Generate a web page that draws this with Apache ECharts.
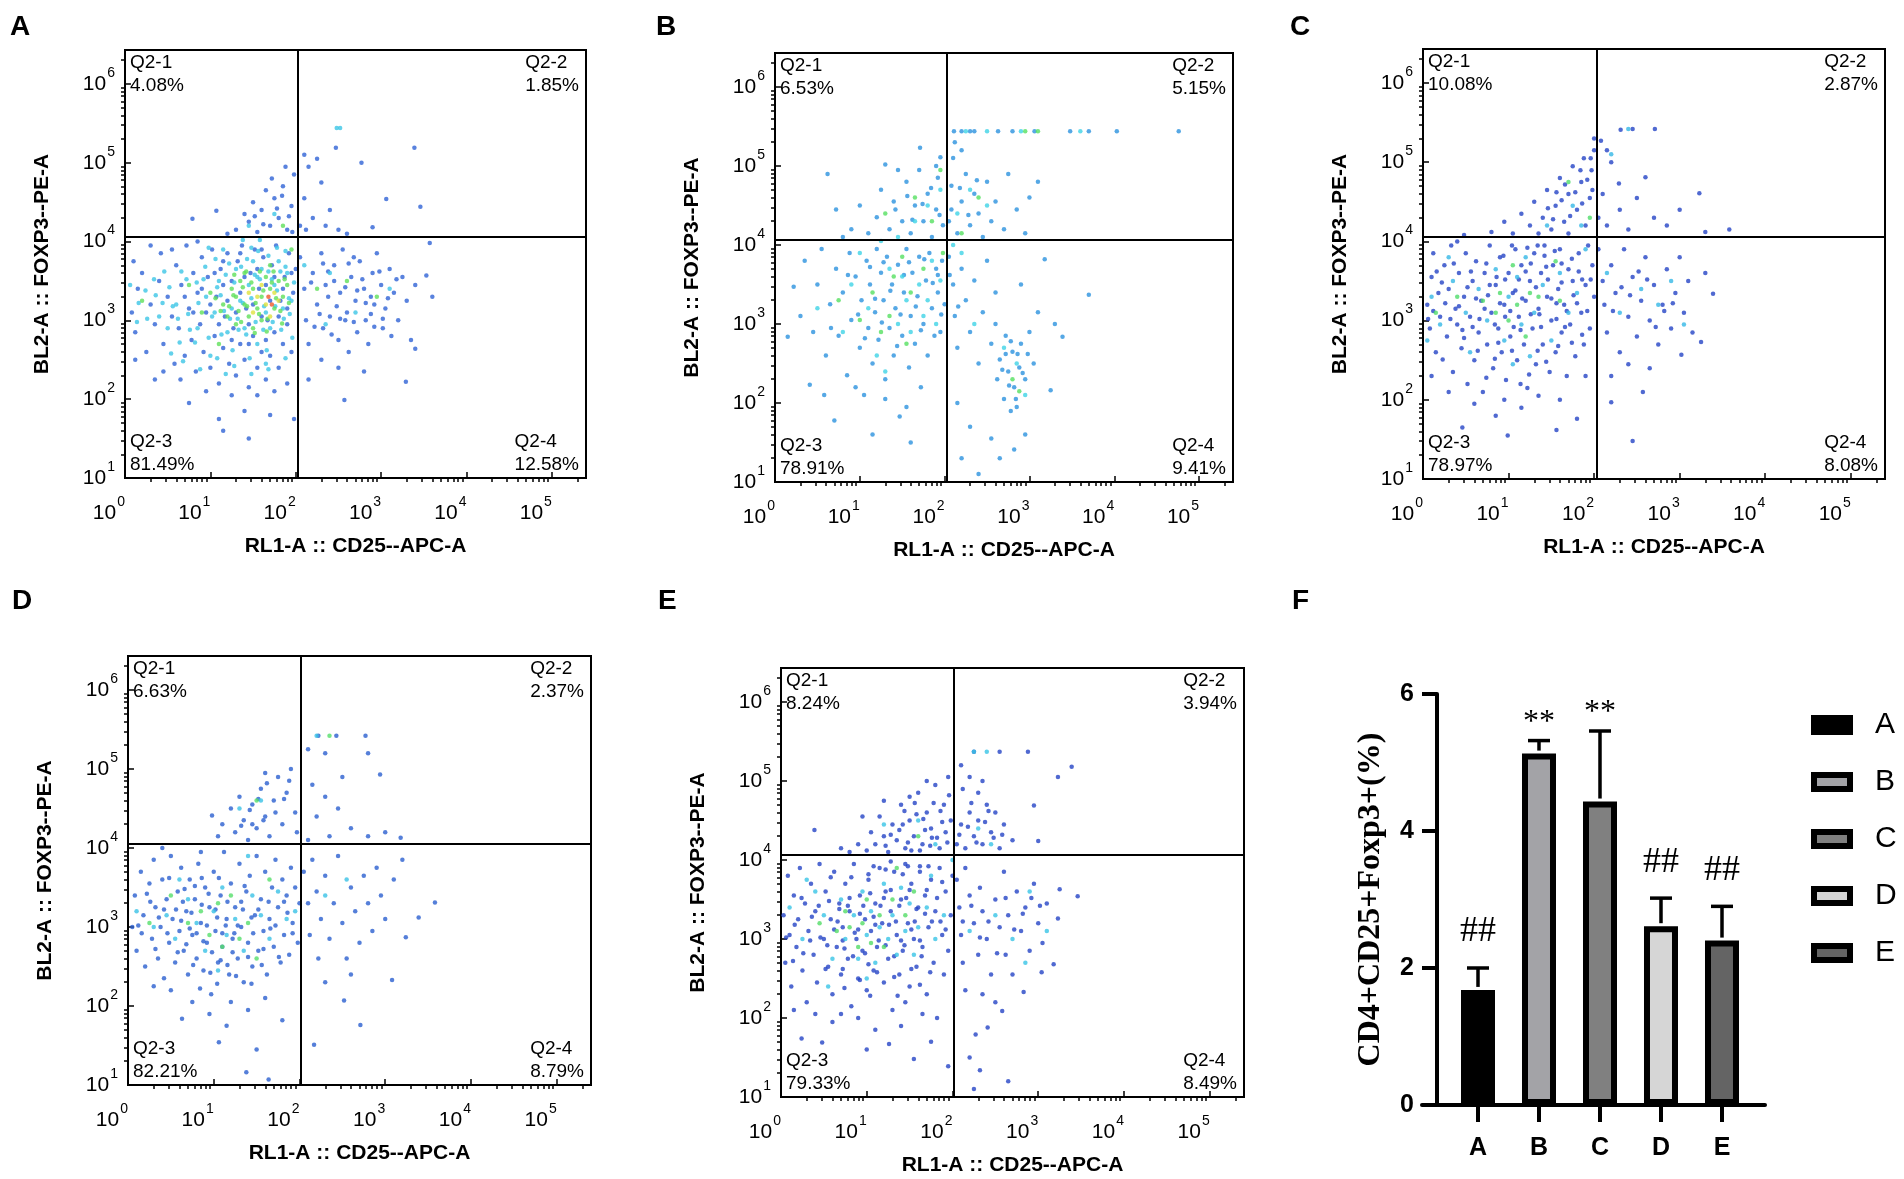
<!DOCTYPE html>
<html>
<head>
<meta charset="utf-8">
<script src="https://cdn.jsdelivr.net/npm/echarts@6/dist/echarts.min.js"></script>
<style>
html, body { margin: 0; padding: 0; background: #fff; }
#chart { width: 1904px; height: 1179px; }
</style>
</head>
<body>
<div id="chart"></div>
<script>
// ---- flow panels: quadrant stats ----
var panelNames = ['A', 'B', 'C', 'D', 'E'];
var q1Pct = ['4.08%', '6.53%', '10.08%', '6.63%', '8.24%'];
var q2Pct = ['1.85%', '5.15%', '2.87%', '2.37%', '3.94%'];
var q3Pct = ['81.49%', '78.91%', '78.97%', '82.21%', '79.33%'];
var q4Pct = ['12.58%', '9.41%', '8.08%', '8.79%', '8.49%'];
// gate positions, log10 units
var gateX = [2.02, 2.02, 2.03, 2.02, 2.02];
var gateY = [4.06, 4.06, 4.06, 4.05, 4.06];
var xTickExp = [0, 1, 2, 3, 4, 5];
var yTickExp = [1, 2, 3, 4, 5, 6];

// ---- events, [log10 CD25, log10 FOXP3] ----
var aBlue = [[0.08,3.1],[0.12,2.85],[0.15,3.4],[0.2,3.6],[0.1,3.75],[0.25,2.6],[0.3,3.2],[0.35,2.95],[0.4,3.5],[0.42,3.85],[0.45,2.7],[0.5,3.3],[0.55,3.05],[0.58,2.45],[0.6,3.7],[0.63,2.9],[0.66,3.45],[0.7,2.55],[0.72,3.95],[0.75,3.15],[0.78,2.75],[0.8,3.6],[0.83,2.35],[0.85,3.35],[0.88,2.95],[0.9,3.8],[0.92,2.6],[0.95,3.1],[0.97,3.55],[1.0,2.4],[1.02,3.9],[1.05,2.8],[1.07,3.3],[1.1,2.2],[1.12,3.65],[1.15,2.65],[1.17,3.05],[1.2,3.85],[1.22,2.45],[1.25,3.5],[1.27,2.9],[1.3,2.3],[1.32,3.75],[1.35,2.7],[1.37,3.95],[1.4,2.5],[1.42,3.15],[1.45,2.15],[1.47,3.6],[1.5,2.8],[1.52,3.9],[1.55,2.4],[1.57,3.4],[1.6,2.6],[1.62,3.8],[1.65,2.25],[1.67,3.0],[1.7,2.55],[1.72,3.7],[1.75,2.85],[1.77,3.95],[1.8,2.4],[1.82,3.25],[1.85,2.7],[1.87,3.55],[1.9,2.95],[1.92,3.85],[1.95,2.6],[1.97,3.35],[2.0,3.65],[1.55,2.05],[1.25,2.05],[0.95,2.1],[1.75,2.1],[1.4,1.85],[1.1,1.75],[1.7,1.8],[1.98,1.75],[1.45,1.5],[1.15,1.6],[0.65,2.25],[0.45,2.35],[0.12,2.5],[0.3,3.95],[0.55,3.9],[0.85,4.0],[0.35,2.25],[1.9,2.2],[0.75,1.95],
  [1.3,3.1],[1.35,3.35],[1.4,3.55],[1.45,2.95],[1.5,3.2],[1.55,3.65],[1.6,3.05],[1.65,3.45],[1.7,3.25],[1.75,3.55],[1.8,3.05],[1.85,3.4],[1.2,3.25],[1.15,3.45],[1.1,2.95],[1.05,3.6],[1.0,3.2],[0.9,3.4],[0.8,3.1],[0.7,3.3],[1.25,2.75],[1.45,2.7],[1.65,2.75],[1.9,3.15],[1.95,3.6],[1.6,3.9],[1.35,3.85],[1.15,3.75],
  [1.3,4.15],[1.45,4.25],[1.55,4.12],[1.6,4.4],[1.7,4.2],[1.75,4.55],[1.8,4.3],[1.85,4.7],[1.9,4.15],[1.95,4.45],[1.98,4.85],[1.65,4.65],[1.5,4.5],[1.4,4.35],[1.2,4.1],[1.07,4.39],[0.79,4.29],[1.88,4.95],[1.72,4.8],[1.62,4.22],[1.78,4.42],[1.92,4.32],[1.52,4.32],[1.84,4.58],[1.96,4.12],
  [2.05,4.2],[2.1,4.55],[2.15,4.95],[2.2,4.3],[2.3,4.75],[2.12,4.15],[2.25,5.05],[2.4,4.4],[2.5,4.15],[2.6,4.1],[2.77,5.0],[3.06,4.54],[3.46,4.44],[2.47,5.19],[3.39,5.19],[2.1,5.1],[2.35,4.2],[2.9,4.18],
  [2.05,3.8],[2.1,3.4],[2.12,3.0],[2.15,2.7],[2.2,3.6],[2.25,3.2],[2.3,3.85],[2.32,2.9],[2.35,3.45],[2.4,3.05],[2.45,3.7],[2.5,2.75],[2.52,3.35],[2.55,3.9],[2.6,3.1],[2.62,2.6],[2.65,3.55],[2.7,3.25],[2.72,2.85],[2.75,3.75],[2.8,3.4],[2.82,3.0],[2.85,2.7],[2.9,3.6],[2.92,3.2],[2.95,3.85],[3.0,3.45],[3.02,2.9],[3.05,3.15],[3.1,3.65],[3.12,2.8],[3.15,3.35],[3.2,3.0],[3.25,3.55],[3.3,3.25],[3.35,2.75],[3.4,3.45],[3.57,3.98],[3.53,3.57],[3.6,3.3],[3.4,2.64],[3.29,2.22],[2.57,1.99],[2.5,2.4],[2.3,2.5],[2.8,2.35],[2.15,2.25],[2.45,3.5],[2.68,3.8],[2.38,3.3],[2.58,3.0],[2.88,3.3],
  [2.18,3.48],[2.28,3.08],[2.38,3.62],[2.48,3.18],[2.58,3.42],[2.68,2.98],[2.78,3.52],[2.88,3.08],[2.98,3.62],[3.08,3.28],[2.22,2.92],[2.42,2.82],[2.62,3.72],[2.82,3.22],[3.02,3.02],[2.32,3.72],[2.52,3.02],[2.72,3.38],[2.92,2.92],[3.18,3.52]];
var aCyan = [[1.35,3.25],[1.45,3.45],[1.55,3.55],[1.65,3.1],[1.75,3.45],[1.25,3.15],[1.4,2.9],[1.6,3.65],[1.85,3.15],[1.95,3.25],[1.1,3.5],[1.05,3.1],[0.95,3.3],[0.85,2.9],[1.5,3.75],[1.3,3.65],[1.2,2.85],[1.7,2.9],[1.8,3.75],[1.9,3.6],[0.6,3.2],[0.4,3.05],[1.55,2.7],[1.15,3.9],[1.45,4.2],[1.75,4.35],[2.1,3.7],[2.4,3.6],[2.7,3.1],[3.1,3.4],[2.35,2.95],[0.5,2.9],[1.0,2.55],[1.65,2.45],[2.48,5.44],[2.52,5.44],
  [1.02,3.05],[1.08,3.42],[1.13,2.82],[1.18,3.58],[1.23,3.02],[1.28,3.48],[1.33,2.88],[1.38,3.22],[1.43,3.78],[1.48,3.28],[1.53,2.98],[1.58,3.52],[1.63,3.18],[1.68,3.62],[1.73,2.98],[1.78,3.38],[1.83,2.88],[1.88,3.68],[1.93,3.08],[1.98,3.48],[0.98,2.78],[1.06,3.78],[1.16,3.12],[1.26,2.62],[1.36,3.68],[1.46,2.52],[1.56,3.88],[1.66,2.62],[1.76,3.18],[1.86,3.02],[1.96,2.78],[0.86,3.22],[0.76,2.88],[0.66,3.62],[0.56,3.18],[0.46,3.62],[0.36,3.32],[0.26,3.02],[0.16,3.22],[0.06,3.45],[0.94,3.68],[0.84,3.48],[0.74,3.08],[0.64,2.72],[0.54,2.58],[1.62,2.88],[1.52,3.58],[1.42,2.82],[1.32,3.02],[1.22,3.72],[1.12,3.32],[1.72,3.52],[1.82,3.62],[1.92,3.28],[1.68,3.82],[1.58,4.02],[1.78,3.92],[1.88,3.88],[1.48,3.92],[1.38,4.02],
  [0.52,3.42],[0.62,3.02],[0.72,3.52],[0.82,2.72],[0.92,3.52],[0.44,3.22],[0.34,3.52],[0.24,3.38],[0.14,2.98],[0.98,3.92],[1.08,2.52],[1.28,2.42],[1.48,2.32],[1.68,2.38],[1.88,2.52],[0.68,2.48],[0.88,2.38],[1.18,2.32]];
var aGreen = [[1.3,3.3],[1.4,3.2],[1.5,3.4],[1.6,3.3],[1.7,3.4],[1.55,3.15],[1.65,3.55],[1.45,3.05],[1.35,3.5],[1.75,3.15],[1.85,3.3],[1.2,3.05],[1.25,3.4],[1.8,3.5],[1.9,3.45],[1.6,3.0],[1.5,2.9],[1.4,3.6],[1.15,3.2],[1.0,3.35],[0.9,3.1],[1.7,3.7],[1.95,3.9],[1.3,2.95],[0.75,3.45],[0.2,3.25],[1.1,2.7],[1.85,4.2],[2.25,3.4],[2.6,3.5],[2.95,3.3],
  [1.22,3.18],[1.27,3.32],[1.33,3.12],[1.38,3.42],[1.43,3.18],[1.48,3.48],[1.53,3.22],[1.57,3.08],[1.62,3.38],[1.67,3.02],[1.72,3.48],[1.77,3.28],[1.82,3.12],[1.87,3.52],[1.92,3.22],[1.42,3.62],[1.58,3.62],[1.74,3.62],[1.28,3.58],[1.36,2.98],[1.52,2.84],[1.66,2.86],[1.84,2.96],[1.12,3.12],[1.06,3.28]];
var aYellow = [[1.55,3.3],[1.65,3.2],[1.75,3.35],[1.6,3.45],[1.5,3.1],[1.45,3.35],[1.7,3.05],[1.8,3.25]];
var aRed = [[1.72,3.2],[1.68,3.3]];

var bBlue = [[0.15,2.84],[0.22,3.47],[0.3,3.1],[0.35,3.8],[0.41,2.23],[0.45,2.9],[0.5,3.5],[0.55,3.95],[0.6,2.6],[0.65,3.25],[0.7,1.78],[0.72,3.7],[0.75,2.85],[0.8,3.4],[0.85,2.35],[0.88,3.9],[0.9,3.05],[0.95,3.6],[1.0,2.7],[1.02,3.3],[1.05,2.1],[1.08,3.8],[1.1,2.95],[1.12,3.5],[1.15,2.5],[1.18,3.15],[1.2,3.95],[1.22,2.8],[1.25,3.65],[1.28,3.3],[1.3,2.3],[1.32,3.85],[1.35,2.95],[1.38,3.5],[1.4,2.6],[1.42,3.2],[1.45,3.75],[1.47,1.83],[1.5,2.85],[1.52,3.4],[1.55,3.95],[1.58,2.45],[1.6,3.1],[1.62,3.65],[1.65,2.75],[1.68,3.35],[1.7,3.85],[1.72,2.2],[1.75,3.0],[1.78,3.55],[1.8,2.6],[1.82,3.9],[1.85,3.2],[1.88,2.85],[1.9,3.7],[1.92,3.4],[1.95,2.9],[1.97,3.8],[2.0,3.25],[1.3,2.05],[1.55,1.95],[0.95,2.2],[1.15,1.6],[1.6,1.5],[0.58,2.1],
  [0.98,3.12],[1.12,3.72],[1.26,3.02],[1.36,3.42],[1.48,3.12],[1.58,3.78],[1.66,3.22],[1.76,3.82],[1.86,3.52],[1.96,3.12],[1.06,2.82],[1.18,3.32],[1.44,2.72],[1.72,2.92],[1.92,3.62],[1.52,3.62],[1.28,3.78],[0.86,3.62],[0.66,2.95],
  [0.62,4.9],[0.72,4.45],[1.3,5.02],[1.71,5.23],[1.95,5.11],[0.9,4.2],[1.0,4.5],[1.1,4.15],[1.2,4.35],[1.25,4.7],[1.35,4.2],[1.4,4.55],[1.5,4.3],[1.55,4.8],[1.6,4.15],[1.65,4.5],[1.7,4.95],[1.75,4.3],[1.8,4.65],[1.85,4.1],[1.9,4.45],[1.92,4.85],[1.98,4.25],[0.8,4.1],[1.45,4.95],[1.62,4.32],[1.74,4.52],[1.84,4.72],[1.56,4.62],[1.94,4.38],[1.42,4.45],[1.9,5.0],
  [2.05,4.3],[2.08,4.75],[2.1,5.1],[2.15,4.15],[2.2,4.55],[2.25,4.9],[2.3,4.25],[2.35,4.65],[2.4,4.4],[2.45,4.1],[2.5,4.8],[2.55,4.3],[2.6,4.55],[2.7,4.2],[2.75,4.9],[2.85,4.45],[2.95,4.15],[3.1,4.8],[3.0,4.6],[2.12,5.3],[2.2,5.2],[2.08,4.45],[2.18,4.72],[2.28,4.38],[2.38,4.82],
  [2.11,5.44],[2.2,5.44],[2.3,5.44],[2.35,5.44],[2.63,5.44],[2.8,5.44],[3.06,5.44],[3.48,5.44],[3.7,5.44],[4.03,5.44],[4.76,5.44],
  [2.05,3.85],[2.1,3.5],[2.12,3.1],[2.15,2.7],[2.2,3.7],[2.25,3.3],[2.3,2.9],[2.35,3.55],[2.4,2.5],[2.45,3.15],[2.5,3.8],[2.55,2.75],[2.6,3.4],[2.62,2.3],[2.65,2.55],[2.7,2.05],[2.72,2.85],[2.75,2.4],[2.78,1.9],[2.8,2.65],[2.82,2.2],[2.85,1.95],[2.88,2.45],[2.9,2.75],[2.95,2.3],[3.0,2.9],[3.05,2.5],[3.1,3.15],[3.18,3.82],[3.25,2.16],[3.39,2.84],[3.7,3.37],[2.82,1.41],[2.4,1.1],[2.55,1.55],[2.3,1.7],[2.2,1.3],[2.65,1.3],[2.95,1.6],[2.15,2.0],[2.6,3.0],[2.9,3.5],[3.3,3.0],
  [2.06,3.62],[2.16,3.22],[2.72,2.62],[2.76,2.22],[2.86,2.62],[2.92,2.38],[2.68,2.42],[2.98,2.62],[2.84,2.05],[2.78,2.78]];
var bCyan = [[0.5,3.2],[0.9,3.5],[1.1,3.2],[1.2,2.6],[1.35,3.7],[1.45,3.0],[1.5,3.6],[1.6,2.9],[1.7,3.5],[1.8,3.3],[1.9,3.0],[1.95,3.55],[1.25,4.05],[1.45,4.1],[1.65,4.3],[1.8,4.5],[1.95,4.7],[2.15,4.4],[2.3,4.7],[2.5,4.5],[2.7,2.7],[2.85,2.5],[2.95,2.1],[2.2,3.9],[2.35,3.0],[1.0,3.9],[0.8,2.9],[1.3,2.4],[1.55,3.3],[1.75,3.1],[2.25,5.44],[2.5,5.44],[2.9,5.44],[3.6,5.44],[2.1,4.0],[1.85,3.8]];
var bGreen = [[0.75,3.3],[1.15,3.4],[1.35,3.1],[1.5,3.85],[1.6,3.4],[1.75,3.7],[1.85,4.3],[1.95,4.95],[1.65,4.6],[1.3,4.4],[1.98,3.9],[2.2,4.15],[2.4,4.6],[2.8,2.3],[2.88,2.15],[1.25,2.9],[1.55,2.75],[1.0,3.05],[2.95,5.44],[3.1,5.44],[1.4,3.6]];

var cBlue = [[0.05,3.2],[0.08,2.9],[0.1,3.55],[0.12,3.85],[0.15,2.6],[0.18,3.35],[0.2,3.05],[0.23,2.51],[0.25,3.7],[0.28,2.8],[0.3,3.4],[0.33,3.95],[0.35,2.35],[0.38,3.15],[0.4,2.95],[0.42,3.6],[0.45,2.65],[0.46,1.65],[0.48,3.3],[0.5,3.85],[0.52,2.2],[0.55,3.05],[0.58,3.5],[0.6,2.5],[0.62,3.75],[0.65,2.85],[0.68,3.25],[0.7,2.1],[0.72,3.6],[0.75,2.7],[0.78,3.95],[0.8,3.1],[0.82,2.4],[0.85,3.45],[0.88,2.9],[0.9,3.8],[0.92,2.6],[0.95,3.2],[0.97,2.25],[0.99,1.55],[1.0,3.6],[1.02,2.8],[1.05,3.35],[1.08,3.9],[1.1,2.5],[1.12,3.05],[1.15,3.7],[1.18,2.7],[1.2,3.25],[1.22,2.15],[1.25,3.5],[1.28,2.9],[1.3,3.85],[1.32,2.45],[1.35,3.15],[1.38,3.6],[1.4,2.7],[1.42,3.95],[1.45,3.3],[1.48,2.35],[1.5,3.0],[1.52,3.7],[1.55,2.6],[1.56,1.62],[1.58,3.4],[1.6,3.9],[1.62,2.85],[1.65,3.2],[1.68,2.3],[1.7,3.65],[1.72,2.95],[1.75,3.5],[1.78,2.55],[1.8,1.76],[1.82,3.85],[1.85,3.1],[1.88,2.7],[1.9,3.45],[1.93,3.95],[1.95,2.9],[1.98,3.7],[2.0,3.3],[0.3,2.1],[0.6,1.95],[0.85,1.8],[1.15,1.9],[1.35,2.05],[1.6,2.0],[1.9,2.3],[0.1,2.3],[0.95,2.0],[0.4,4.0],
  [0.72,3.15],[0.78,3.45],[0.84,2.95],[0.9,3.22],[0.96,3.52],[1.02,3.12],[1.08,3.38],[1.14,2.88],[1.2,3.62],[1.26,3.08],[1.32,3.42],[1.38,2.92],[1.44,3.68],[1.5,3.28],[1.56,3.02],[1.62,3.48],[1.68,3.12],[1.74,3.78],[1.8,3.22],[1.86,3.52],[0.62,3.28],[0.52,3.42],[0.42,3.18],[0.32,3.02],[0.22,3.48],[0.12,3.12],[0.58,2.92],[0.48,2.78],[0.88,2.72],[1.04,2.62],[1.22,3.92],[1.42,3.82],[1.62,3.72],[1.82,3.62],[1.92,3.12],[1.58,2.68],[1.34,2.62],[0.74,3.72],[0.94,3.82],[1.12,3.52],
  [0.66,3.02],[0.76,3.32],[0.86,3.55],[0.96,3.05],[1.06,2.92],[1.16,3.28],[1.26,3.72],[1.36,3.08],[1.46,3.52],[1.56,3.22],[1.66,2.92],[1.76,3.32],[1.86,2.82],[1.96,3.52],[0.56,3.62],[0.46,2.88],[0.36,3.72],[0.26,3.22],[0.16,3.62],[0.06,3.02],[0.64,2.62],[0.84,2.52],[1.24,2.32],[1.44,2.48],[1.74,2.72],[1.14,2.2],[0.74,2.28],[1.54,3.88],[1.34,3.95],[1.04,3.95],
  [0.48,4.08],[0.8,4.12],[0.95,4.25],[1.05,4.1],[1.15,4.35],[1.25,4.2],[1.3,4.5],[1.4,4.3],[1.45,4.65],[1.5,4.15],[1.55,4.45],[1.6,4.8],[1.65,4.25],[1.7,4.6],[1.75,4.95],[1.8,4.4],[1.85,4.75],[1.88,5.05],[1.9,4.2],[1.95,4.55],[1.97,4.9],[2.0,5.15],[1.35,4.1],[1.7,4.1],[1.52,4.28],[1.62,4.52],[1.72,4.32],[1.78,4.62],[1.84,4.9],[1.92,4.78],[1.96,5.05],[1.86,4.48],[1.66,4.72],[1.46,4.42],[1.56,4.62],[1.98,4.65],
  [2.08,5.27],[2.29,4.73],[2.6,4.81],[3.23,4.61],[3.58,4.15],[2.05,4.3],[2.1,4.6],[2.15,4.2],[2.2,5.0],[2.3,4.4],[2.4,4.15],[2.5,4.55],[2.7,4.3],[2.85,4.2],[3.0,4.4],[3.3,4.12],[2.15,5.15],[2.31,5.41],[2.45,5.42],[2.71,5.42],[2.0,5.3],
  [2.05,3.9],[2.1,3.5],[2.12,3.2],[2.15,2.85],[2.2,3.7],[2.25,3.35],[2.3,2.6],[2.35,3.9],[2.4,3.05],[2.45,3.55],[2.5,2.8],[2.55,3.25],[2.6,3.8],[2.65,3.0],[2.7,3.45],[2.75,2.7],[2.8,3.2],[2.85,3.65],[2.9,2.9],[2.95,3.35],[3.0,3.8],[3.05,3.1],[3.1,3.5],[3.15,2.85],[3.25,2.73],[3.02,2.57],[3.39,3.34],[3.3,3.6],[2.57,2.1],[2.2,1.97],[2.45,1.48],[2.4,2.45],[2.65,2.4],[2.2,2.3],[2.22,3.12],[2.42,3.32],[2.62,3.52],[2.82,3.12],[2.52,3.62],[2.72,2.92],[2.92,3.22],[2.32,3.42]];
var cCyan = [[0.1,3.3],[0.2,2.95],[0.35,3.5],[0.5,3.1],[0.65,3.4],[0.75,3.0],[0.85,3.65],[0.95,2.75],[1.0,3.3],[1.1,3.55],[1.15,2.95],[1.2,3.8],[1.3,3.1],[1.4,3.45],[1.5,2.75],[1.6,3.6],[1.7,3.1],[1.8,3.35],[1.9,3.9],[1.45,4.2],[1.75,4.45],[1.85,4.2],[2.15,3.6],[2.55,3.4],[2.75,3.2],[2.9,3.5],[3.05,2.95],[2.3,3.1],[0.55,2.6],[1.05,2.45],[1.25,2.55],[0.05,2.75],[0.3,3.8],[2.2,5.1],[2.4,5.42]];
var cGreen = [[0.7,3.25],[0.9,3.35],[1.0,3.0],[1.1,3.2],[0.85,3.1],[1.25,3.35],[1.35,3.3],[1.55,3.75],[1.2,2.8],[1.05,3.7],[1.7,4.75],[1.95,4.3],[0.4,3.3],[1.6,3.25],[0.15,3.1]];

var dBlue = [[0.05,3.0],[0.08,3.4],[0.1,2.7],[0.15,3.7],[0.18,3.15],[0.2,2.5],[0.25,3.55],[0.28,2.85],[0.3,3.85],[0.32,3.25],[0.35,2.6],[0.38,3.0],[0.4,3.6],[0.42,2.35],[0.45,3.35],[0.48,2.8],[0.5,3.9],[0.52,3.1],[0.55,2.55],[0.58,3.45],[0.6,2.95],[0.62,3.75],[0.63,1.84],[0.65,2.7],[0.68,3.2],[0.7,2.4],[0.72,3.6],[0.75,2.9],[0.78,3.35],[0.8,2.6],[0.82,3.8],[0.85,3.05],[0.88,2.45],[0.9,3.5],[0.92,2.8],[0.95,3.25],[0.97,2.15],[1.0,3.7],[1.02,2.95],[1.05,2.55],[1.06,1.54],[1.08,3.4],[1.1,2.75],[1.12,3.95],[1.15,3.1],[1.18,2.4],[1.2,3.55],[1.22,2.85],[1.25,3.25],[1.28,2.6],[1.3,3.8],[1.32,3.0],[1.35,2.3],[1.38,3.45],[1.4,2.8],[1.42,3.65],[1.45,2.5],[1.48,3.15],[1.5,3.9],[1.52,2.7],[1.55,3.35],[1.58,2.95],[1.6,3.7],[1.62,2.4],[1.65,3.1],[1.68,3.5],[1.7,2.75],[1.72,3.85],[1.75,3.25],[1.78,2.55],[1.8,3.6],[1.82,2.9],[1.85,3.4],[1.88,2.65],[1.9,3.75],[1.92,3.05],[1.95,3.5],[1.98,2.8],[2.0,3.3],[0.5,2.2],[0.75,2.05],[0.95,1.9],[1.2,2.05],[1.4,1.95],[1.6,2.1],[1.8,1.82],[1.38,1.16],[1.64,1.07],[0.3,2.25],[1.15,1.75],[1.5,1.45],[0.85,3.95],[0.4,4.0],
  [0.62,3.08],[0.68,2.78],[0.74,3.18],[0.8,2.92],[0.86,3.28],[0.92,3.02],[0.98,2.68],[1.04,3.12],[1.1,2.92],[1.16,3.32],[1.22,2.68],[1.28,3.02],[1.34,3.22],[1.4,2.62],[1.46,2.92],[1.52,3.22],[1.58,2.72],[1.64,3.32],[0.56,3.22],[0.46,2.92],[0.36,3.12],[0.26,3.32],[0.16,2.92],[0.76,2.52],[0.96,2.42],[1.16,2.52],[1.36,3.52],[0.86,3.62],[1.06,3.62],[1.26,2.38],[1.72,3.02],[1.82,3.32],[1.92,2.92],[0.66,3.48],
  [0.58,2.68],[0.64,3.32],[0.72,2.98],[0.78,3.52],[0.88,2.82],[0.94,3.42],[1.02,3.22],[1.08,2.58],[1.14,3.02],[1.24,2.92],[1.32,3.32],[1.44,3.12],[1.56,2.52],[1.66,2.98],[1.76,2.62],[0.42,3.22],[0.32,2.72],[0.22,3.42],[0.12,3.02],[0.48,3.62],[1.04,2.28],[0.84,2.22],[1.44,2.28],[1.86,3.18],
  [0.98,4.41],[1.05,4.15],[1.1,4.3],[1.2,4.5],[1.25,4.2],[1.3,4.65],[1.35,4.35],[1.4,4.1],[1.45,4.55],[1.5,4.25],[1.55,4.75],[1.6,4.4],[1.65,4.15],[1.7,4.6],[1.75,4.9],[1.8,4.3],[1.85,4.7],[1.9,5.0],[1.95,4.45],[1.97,4.2],[1.6,4.95],[1.45,4.3],[1.42,4.48],[1.52,4.62],[1.62,4.82],[1.72,4.45],[1.82,4.62],[1.88,4.85],[1.32,4.28],[1.58,4.35],
  [2.22,5.42],[2.43,5.42],[2.77,5.42],[2.8,5.2],[2.94,4.93],[3.18,4.13],[2.1,5.25],[2.15,4.8],[2.2,4.4],[2.3,4.65],[2.35,4.15],[2.5,4.9],[2.6,4.25],[2.8,4.15],[2.1,4.1],[2.45,4.5],[3.0,4.2],[2.3,5.2],
  [2.05,3.7],[2.1,3.3],[2.12,2.9],[2.15,3.85],[2.2,3.45],[2.22,2.6],[2.25,3.1],[2.3,3.65],[2.35,2.85],[2.4,3.3],[2.45,3.9],[2.5,3.05],[2.55,2.6],[2.6,3.5],[2.65,3.2],[2.7,2.8],[2.75,3.65],[2.8,3.3],[2.85,2.95],[2.9,3.75],[2.95,3.4],[3.0,3.1],[3.1,3.6],[3.24,2.87],[3.39,3.12],[3.58,3.31],[3.08,2.33],[2.52,2.07],[2.71,1.76],[2.17,1.51],[2.3,2.3],[2.6,2.4],[3.2,3.85]];
var dCyan = [[0.1,3.2],[0.3,3.0],[0.45,3.15],[0.55,2.85],[0.7,3.35],[0.8,3.05],[0.9,2.7],[1.0,3.2],[1.1,3.5],[1.15,2.9],[1.25,3.1],[1.35,2.7],[1.45,3.4],[1.55,3.15],[1.65,2.85],[1.75,3.45],[1.85,3.1],[1.3,4.5],[1.55,4.6],[0.6,3.6],[1.05,2.45],[1.4,3.9],[2.3,3.4],[2.55,3.6],[2.2,5.42],[1.95,3.2]];
var dGreen = [[0.7,3.05],[0.85,3.2],[0.95,2.9],[1.05,3.3],[1.1,2.75],[1.3,2.85],[1.2,3.4],[1.5,2.6],[1.65,3.6],[0.5,3.4],[0.25,3.05],[1.4,3.05],[2.35,5.42],[1.5,4.6]];

var eBlue = [[0.03,3.3],[0.05,2.7],[0.08,3.8],[0.1,3.05],[0.12,2.4],[0.15,3.55],[0.18,2.9],[0.2,3.25],[0.22,3.9],[0.25,2.6],[0.28,3.45],[0.3,2.2],[0.32,3.1],[0.35,3.7],[0.38,2.8],[0.4,3.35],[0.42,2.45],[0.45,3.95],[0.48,1.69],[0.5,3.0],[0.52,3.6],[0.55,2.65],[0.58,3.25],[0.6,2.3],[0.62,3.85],[0.65,2.9],[0.68,3.45],[0.7,2.55],[0.72,3.15],[0.75,3.7],[0.78,2.75],[0.8,3.35],[0.82,2.15],[0.85,3.95],[0.88,3.0],[0.9,2.5],[0.92,3.55],[0.95,2.85],[0.98,3.25],[1.0,2.35],[1.02,3.75],[1.05,3.1],[1.08,2.6],[1.1,3.45],[1.12,2.9],[1.15,3.9],[1.18,3.2],[1.2,2.45],[1.22,3.6],[1.25,2.75],[1.26,1.67],[1.28,3.35],[1.3,2.1],[1.32,3.85],[1.35,3.05],[1.38,2.55],[1.4,3.5],[1.42,2.85],[1.45,3.95],[1.48,3.2],[1.5,2.4],[1.52,3.7],[1.55,1.48],[1.55,3.0],[1.58,2.65],[1.6,3.4],[1.62,3.85],[1.65,2.9],[1.68,3.55],[1.7,2.3],[1.72,3.15],[1.75,3.75],[1.78,2.7],[1.8,3.35],[1.82,2.0],[1.85,3.9],[1.88,3.05],[1.9,2.55],[1.92,3.6],[1.95,2.85],[1.95,1.39],[1.98,3.3],[2.0,3.8],[0.24,1.74],[0.6,1.95],[0.9,2.0],[1.1,1.85],[1.4,1.9],[1.65,2.05],[0.4,2.05],[1.0,1.6],[1.45,2.2],[0.15,2.1],[0.7,2.05],[1.75,1.7],
  [0.62,3.12],[0.68,3.38],[0.74,2.88],[0.8,3.52],[0.86,3.08],[0.92,3.32],[0.98,2.82],[1.04,3.58],[1.1,3.18],[1.16,3.42],[1.22,2.92],[1.28,3.62],[1.34,3.22],[1.4,2.98],[1.46,3.52],[1.52,3.12],[1.58,3.38],[1.64,2.78],[1.7,3.62],[1.76,3.22],[0.56,3.48],[0.46,3.02],[0.36,3.28],[0.26,2.82],[0.16,3.18],[0.06,3.02],[0.52,2.62],[0.72,2.62],[0.92,2.48],[1.12,2.58],[1.32,2.52],[1.52,2.62],[1.82,3.52],[1.92,3.12],[1.88,3.72],[1.62,3.92],[1.42,3.82],[1.22,3.88],[1.02,3.82],[0.82,3.78],
  [0.66,3.22],[0.72,2.98],[0.78,3.42],[0.84,2.78],[0.9,3.12],[0.96,3.42],[1.02,2.68],[1.08,3.28],[1.14,2.98],[1.2,3.52],[1.26,3.18],[1.32,2.78],[1.38,3.42],[1.44,2.92],[1.5,3.62],[1.56,3.22],[1.62,2.98],[1.68,3.32],[1.74,2.58],[1.86,3.22],[0.54,2.92],[0.44,3.42],[0.34,2.98],[0.24,3.52],[0.14,2.72],[0.58,3.78],[1.08,3.92],[1.28,3.98],[1.48,3.92],[1.72,3.92],[0.74,2.38],[1.04,2.28],[1.36,2.28],[1.62,2.42],
  [0.39,4.38],[0.95,4.55],[0.8,4.1],[0.9,4.2],[1.0,4.12],[1.05,4.35],[1.1,4.2],[1.15,4.55],[1.2,4.3],[1.25,4.1],[1.3,4.45],[1.35,4.25],[1.4,4.7],[1.45,4.15],[1.5,4.5],[1.55,4.3],[1.6,4.85],[1.65,4.2],[1.7,4.6],[1.75,4.4],[1.8,4.95],[1.85,4.15],[1.9,4.7],[1.92,4.35],[1.95,5.05],[1.98,4.5],[1.2,4.75],[1.5,4.8],[1.7,5.0],[0.7,4.15],[1.22,4.18],[1.38,4.38],[1.48,4.22],[1.58,4.58],[1.68,4.38],[1.78,4.72],[1.88,4.48],[1.96,4.82],[1.62,4.12],[1.82,4.28],[1.44,4.62],[1.74,4.18],[1.28,4.32],[1.42,4.45],[1.52,4.12],[1.66,4.52],[1.76,4.28],[1.86,4.62],[1.94,4.22],[1.56,4.72],
  [2.25,5.37],[2.55,5.37],[2.88,5.37],[3.39,5.18],[3.23,5.05],[2.95,4.69],[3.0,4.24],[2.05,4.2],[2.1,4.45],[2.12,4.9],[2.15,4.15],[2.2,4.6],[2.25,4.3],[2.3,4.5],[2.35,4.2],[2.4,4.7],[2.45,4.35],[2.5,4.6],[2.55,4.15],[2.6,4.45],[2.1,5.2],[2.2,5.05],[2.35,5.0],[2.7,4.25],[2.3,4.85],[2.08,4.32],[2.18,4.42],[2.28,4.22],[2.38,4.48],[2.48,4.28],[2.22,4.72],[2.42,4.62],[2.58,4.32],
  [2.05,3.75],[2.08,3.4],[2.1,3.05],[2.12,2.7],[2.15,3.9],[2.2,3.55],[2.25,3.2],[2.3,2.8],[2.32,3.65],[2.35,3.35],[2.4,3.0],[2.45,2.55],[2.5,3.5],[2.55,3.15],[2.6,3.85],[2.62,2.8],[2.65,3.3],[2.7,2.55],[2.75,3.6],[2.8,3.1],[2.85,3.4],[2.9,2.85],[2.95,3.7],[3.0,3.2],[3.05,2.95],[3.1,3.45],[3.25,3.63],[3.46,3.54],[3.23,3.26],[3.18,2.68],[3.04,2.58],[2.83,2.33],[2.58,2.09],[2.41,1.88],[2.27,1.79],[2.32,1.34],[2.65,1.2],[2.2,1.5],[2.35,2.3],[2.5,2.2],[2.15,2.35],[2.25,1.1],[2.22,3.42],[2.42,3.22],[2.62,3.52],[2.82,3.32],[2.52,2.82],[2.72,3.12],[2.92,3.52],[3.02,3.42],[2.32,3.02],[2.12,3.22]];
var eCyan = [[0.1,3.4],[0.25,3.0],[0.4,3.6],[0.5,3.3],[0.6,2.75],[0.7,3.5],[0.75,3.0],[0.85,3.3],[0.9,2.75],[0.95,3.6],[1.0,3.05],[1.05,3.35],[1.1,2.7],[1.15,3.15],[1.2,3.7],[1.25,3.0],[1.3,3.3],[1.35,2.8],[1.4,3.65],[1.45,3.1],[1.5,3.45],[1.55,2.8],[1.6,3.15],[1.7,3.4],[1.8,3.0],[1.9,3.3],[0.55,2.4],[1.0,2.5],[1.2,4.45],[1.6,4.5],[1.8,4.2],[2.3,4.4],[2.45,4.2],[2.5,3.3],[2.7,3.0],[2.9,3.6],[3.1,3.1],[2.85,2.7],[2.25,5.37],[2.4,5.37],[0.3,3.75],[1.75,3.8],[2.0,4.0],[2.2,3.1]];
var eGreen = [[0.8,3.15],[0.95,3.2],[1.05,2.95],[1.15,3.3],[0.75,3.35],[0.9,2.9],[1.3,3.5],[1.2,2.9],[1.45,3.3],[0.65,3.1],[1.55,3.6],[1.0,3.5],[1.35,3.9],[1.6,4.3],[0.45,3.2]];

// ---- panel F: bar chart ----
var groups = ['A', 'B', 'C', 'D', 'E'];
var meanPct = [1.68, 5.13, 4.43, 2.61, 2.40];
var sdPct = [0.32, 0.19, 1.03, 0.41, 0.50];
var sigMarks = ['##', '**', '**', '##', '##'];
var barColors = ['#000000', '#a3a3a7', '#808080', '#d6d6d6', '#646464'];

// ---- layout / style ----
var FONT = '"Liberation Sans", Arial, sans-serif';
var SERIF = '"Liberation Serif", "Times New Roman", serif';
var boxes = [
    {left: 125, top: 50, width: 461, height: 428},
    {left: 775, top: 53, width: 458, height: 429},
    {left: 1423, top: 49, width: 462, height: 430},
    {left: 128, top: 656, width: 463, height: 429},
    {left: 781, top: 668, width: 463, height: 429}
];
var letterPos = [[10, 13], [656, 13], [1290, 13], [12, 587], [658, 587], [1292, 587]];
var panelPoints = [
    {blue: aBlue, cyan: aCyan, green: aGreen, yellow: aYellow, red: aRed},
    {blue: bBlue, cyan: bCyan, green: bGreen},
    {blue: cBlue, cyan: cCyan, green: cGreen},
    {blue: dBlue, cyan: dCyan, green: dGreen},
    {blue: eBlue, cyan: eCyan, green: eGreen}
];
var dotColors = [
    {blue: '#2f63d6', cyan: '#3cc6e6', green: '#5fe05a', yellow: '#dfe23f', red: '#ef5a2a'},
    {blue: '#2c92df', cyan: '#3fd3e6', green: '#55e060'},
    {blue: '#2443c6', cyan: '#35b8e6', green: '#4fdc6a'},
    {blue: '#2a5fd0', cyan: '#39c2e6', green: '#55de6a'},
    {blue: '#2443c6', cyan: '#38c4e6', green: '#52dc66'}
];

function minorTicks(lo, hi) {
    var out = [];
    for (var d = Math.floor(lo); d < hi; d++) {
        for (var k = 2; k <= 9; k++) {
            var v = d + Math.log10(k);
            if (v > lo && v < hi) out.push(v);
        }
    }
    return out;
}
function supLabel(v) { return '{b|10}{s|' + v + '}'; }
var supRich = {
    b: {fontFamily: FONT, fontSize: 21, color: '#000', lineHeight: 36},
    s: {fontFamily: FONT, fontSize: 14, color: '#000', lineHeight: 14, verticalAlign: 'top', padding: [0, 0, 0, 1]}
};

var measure = document.createElement('canvas').getContext('2d');
measure.font = '19px ' + FONT;
function textW(s) { return measure.measureText(s).width; }

var grids = [], xAxes = [], yAxes = [], series = [], graphics = [];
var tickStyle = {color: '#000', width: 1.5};

panelNames.forEach(function(name, i) {
    var b = boxes[i];
    grids.push({left: b.left, top: b.top, width: b.width, height: b.height,
        show: true, borderColor: '#000', borderWidth: 2, backgroundColor: '#fff'});
    var xi = xAxes.length, yi = yAxes.length;
    xAxes.push({
        type: 'value', gridIndex: i, min: 0, max: 5.4, position: 'bottom',
        name: 'RL1-A :: CD25--APC-A', nameLocation: 'middle', nameGap: 58,
        nameTextStyle: {fontFamily: FONT, fontWeight: 'bold', fontSize: 21, color: '#000'},
        splitLine: {show: false},
        axisLine: {show: true, onZero: false, lineStyle: {color: '#000', width: 2}},
        axisTick: {customValues: xTickExp, inside: true, length: 6, lineStyle: tickStyle},
        axisLabel: {customValues: xTickExp, formatter: supLabel, rich: supRich, align: 'right', margin: 17, padding: [0, 0, 0, 6]}
    });
    xAxes.push({
        type: 'value', gridIndex: i, min: 0, max: 5.4, position: 'bottom',
        splitLine: {show: false}, axisLine: {show: false}, axisLabel: {show: false},
        axisTick: {customValues: minorTicks(0, 5.4), length: 4, lineStyle: tickStyle}
    });
    yAxes.push({
        type: 'value', gridIndex: i, min: 1, max: 6.43, position: 'left',
        name: 'BL2-A :: FOXP3--PE-A', nameLocation: 'middle', nameGap: 72,
        nameTextStyle: {fontFamily: FONT, fontWeight: 'bold', fontSize: 21, color: '#000'},
        splitLine: {show: false},
        axisLine: {show: true, onZero: false, lineStyle: {color: '#000', width: 2}},
        axisTick: {customValues: yTickExp, inside: true, length: 6, lineStyle: tickStyle},
        axisLabel: {customValues: yTickExp, formatter: supLabel, rich: supRich, margin: 10}
    });
    yAxes.push({
        type: 'value', gridIndex: i, min: 1, max: 6.43, position: 'left',
        splitLine: {show: false}, axisLine: {show: false}, axisLabel: {show: false},
        axisTick: {customValues: minorTicks(1, 6.43), length: 4, lineStyle: tickStyle}
    });

    var pts = panelPoints[i], cols = dotColors[i];
    var keys = ['blue', 'cyan', 'green', 'yellow', 'red'].filter(function(k) { return pts[k]; });
    keys.forEach(function(k, j) {
        var s = {
            type: 'scatter', xAxisIndex: xi, yAxisIndex: yi, data: pts[k],
            symbol: 'circle', symbolSize: 4.5, silent: true, z: 2 + j,
            itemStyle: {color: cols[k]}
        };
        if (j === keys.length - 1) {
            s.markLine = {
                silent: true, symbol: 'none', label: {show: false}, animation: false,
                lineStyle: {color: '#000', width: 2, type: 'solid'},
                data: [{xAxis: gateX[i]}, {yAxis: gateY[i]}]
            };
        }
        series.push(s);
    });

    // quadrant names and percentages
    var qStyle = {font: '19px ' + FONT, fill: '#000', lineHeight: 23};
    var rx = b.left + b.width - 7;
    var bot = b.top + b.height - 2;
    var w2 = Math.max(textW('Q2-2'), textW(q2Pct[i]));
    var w4 = Math.max(textW('Q2-4'), textW(q4Pct[i]));
    graphics.push(
        {type: 'text', x: b.left + 5, y: b.top + 1, z: 20, style: Object.assign({text: 'Q2-1\n' + q1Pct[i], align: 'left', verticalAlign: 'top'}, qStyle)},
        {type: 'text', x: rx - w2, y: b.top + 1, z: 20, style: Object.assign({text: 'Q2-2\n' + q2Pct[i], align: 'left', verticalAlign: 'top'}, qStyle)},
        {type: 'text', x: b.left + 5, y: bot, z: 20, style: Object.assign({text: 'Q2-3\n' + q3Pct[i], align: 'left', verticalAlign: 'bottom'}, qStyle)},
        {type: 'text', x: rx - w4, y: bot, z: 20, style: Object.assign({text: 'Q2-4\n' + q4Pct[i], align: 'left', verticalAlign: 'bottom'}, qStyle)}
    );
});

// panel letters
['A', 'B', 'C', 'D', 'E', 'F'].forEach(function(l, i) {
    graphics.push({type: 'text', x: letterPos[i][0], y: letterPos[i][1], z: 20,
        style: {text: l, font: 'bold 28px ' + FONT, fill: '#000', align: 'left', verticalAlign: 'top'}});
});

// ---- bar chart grid ----
var bg = grids.length, bx = xAxes.length, by = yAxes.length;
grids.push({left: 1422, top: 694, width: 343, height: 411});
xAxes.push({
    type: 'value', gridIndex: bg, min: -0.918, max: 4.705,
    splitLine: {show: false},
    axisLine: {show: true, onZero: false, lineStyle: {color: '#000', width: 4}},
    axisTick: {customValues: [0, 1, 2, 3, 4], length: 17, lineStyle: {color: '#000', width: 4}},
    axisLabel: {customValues: [0, 1, 2, 3, 4], formatter: function(v) { return groups[v]; },
        fontFamily: FONT, fontWeight: 'bold', fontSize: 25, color: '#000', margin: 31}
});
yAxes.push({
    type: 'value', gridIndex: bg, min: 0, max: 6, interval: 2, offset: -15,
    name: 'CD4+CD25+Foxp3+(%)', nameLocation: 'middle', nameGap: 50,
    nameTextStyle: {fontFamily: SERIF, fontWeight: 'bold', fontSize: 32, color: '#000'},
    splitLine: {show: false},
    axisLine: {show: true, onZero: false, lineStyle: {color: '#000', width: 4}},
    axisTick: {length: 15, lineStyle: {color: '#000', width: 4}},
    axisLabel: {fontFamily: FONT, fontWeight: 'bold', fontSize: 25, color: '#000', margin: 23}
});
groups.forEach(function(g, i) {
    series.push({
        type: 'bar', name: g, xAxisIndex: bx, yAxisIndex: by, stack: 'grp',
        data: [[i, meanPct[i]]], barWidth: 34, z: 3,
        itemStyle: {color: barColors[i], borderColor: '#000', borderWidth: 6}
    });
});
series.push({
    type: 'custom', xAxisIndex: bx, yAxisIndex: by, z: 4, silent: true,
    data: groups.map(function(g, i) { return [i, meanPct[i], meanPct[i] + sdPct[i]]; }),
    renderItem: function(params, api) {
        var i = params.dataIndex;
        var p0 = api.coord([api.value(0), api.value(1)]);
        var p1 = api.coord([api.value(0), api.value(2)]);
        var line = {stroke: '#000', lineWidth: 3.5};
        var isHash = sigMarks[i] === '##';
        return {type: 'group', children: [
            {type: 'line', shape: {x1: p0[0], y1: p0[1] - 3, x2: p1[0], y2: p1[1]}, style: line},
            {type: 'line', shape: {x1: p1[0] - 11, y1: p1[1], x2: p1[0] + 11, y2: p1[1]}, style: line},
            {type: 'text', style: {text: sigMarks[i], x: p1[0], y: p1[1] - (isHash ? 36 : 18),
                align: 'center', verticalAlign: 'middle',
                font: (isHash ? '36px ' : '32px ') + SERIF, fill: '#000'}}
        ]};
    }
});

var chart = echarts.init(document.getElementById('chart'));
chart.setOption({
    animation: false,
    backgroundColor: '#fff',
    grid: grids,
    xAxis: xAxes,
    yAxis: yAxes,
    legend: {
        data: groups, orient: 'vertical', left: 1806, top: 705,
        icon: 'rect', itemWidth: 36, itemHeight: 14, itemGap: 27,
        itemStyle: {borderColor: '#000', borderWidth: 6},
        textStyle: {fontFamily: FONT, fontSize: 30, color: '#000', lineHeight: 30, padding: [0, 0, 0, 20]},
        selectedMode: false
    },
    graphic: graphics,
    series: series
});
</script>
</body>
</html>
